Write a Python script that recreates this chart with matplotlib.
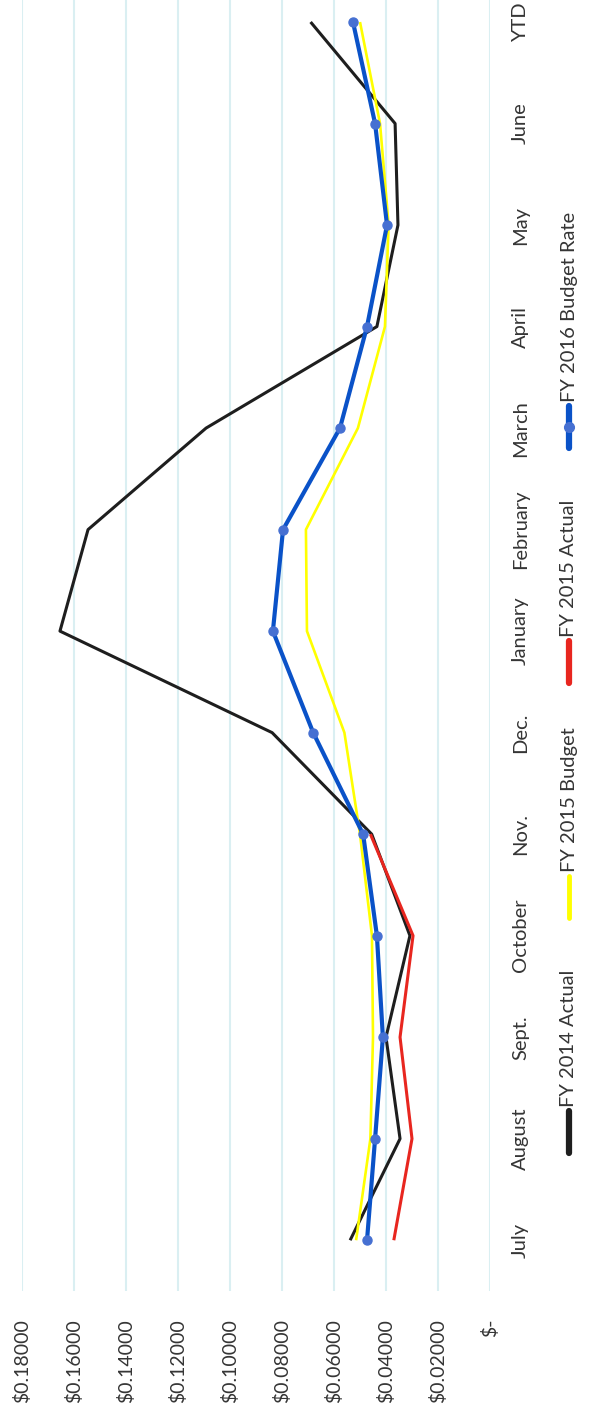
import numpy as np
import matplotlib
matplotlib.use("Agg")
import matplotlib.pyplot as plt
from matplotlib.lines import Line2D

# ---- data ----
categories = ["July", "August", "Sept.", "October", "Nov.", "Dec.", "January",
              "February", "March", "April", "May", "June", "YTD"]
fy2014_actual = [0.0538, 0.0346, 0.0400, 0.0308, 0.0455, 0.0838, 0.1654,
                 0.1546, 0.1092, 0.0435, 0.0354, 0.0365, 0.0690]
fy2015_budget = [0.0515, 0.0460, 0.0450, 0.0454, 0.0500, 0.0560, 0.0704,
                 0.0708, 0.0508, 0.0404, 0.0390, 0.0423, 0.0500]
fy2015_actual = [0.0370, 0.0300, 0.0346, 0.0296, 0.0460, None, None,
                 None, None, None, None, None, None]
fy2016_budget_rate = [0.0473, 0.0442, 0.0412, 0.0435, 0.0488, 0.0680, 0.0835,
                      0.0796, 0.0577, 0.0473, 0.0396, 0.0442, 0.0527]
value_ticks = [0.18, 0.16, 0.14, 0.12, 0.10, 0.08, 0.06, 0.04, 0.02, 0.0]
value_tick_labels = ["$0.18000", "$0.16000", "$0.14000", "$0.12000", "$0.10000",
                     "$0.08000", "$0.06000", "$0.04000", "$0.02000", "$-"]
legend_labels = ["FY 2014 Actual", "FY 2015 Budget", "FY 2015 Actual",
                 "FY 2016 Budget Rate"]

def arr(v):
    return np.array([np.nan if x is None else x for x in v], dtype=float)

FONT = "Lato"
FS = 14.5
TXT = "#353535"
W, H = 598, 1416

fig = plt.figure(figsize=(W / 100, H / 100), dpi=100)
fig.patch.set_facecolor("white")

ax_left, ax_right = 22, 490
ax_top, ax_bottom = 0, 1291
ax = fig.add_axes([ax_left / W, (H - ax_bottom) / H,
                   (ax_right - ax_left) / W, (ax_bottom - ax_top) / H])

idx = np.arange(len(categories))
colors = ["#1e1e1e", "#ffff00", "#e8261f", "#0a52c8"]
series = [fy2014_actual, fy2015_budget, fy2015_actual, fy2016_budget_rate]
widths = [2.2, 1.9, 2.2, 3.0]
for i, (s, c, lw) in enumerate(zip(series, colors, widths)):
    if i == 3:
        ax.plot(arr(s), idx, color=c, lw=lw, marker="o", ms=6.5,
                mfc="#4670d2", mec="#4670d2", zorder=5, solid_capstyle="round")
    else:
        ax.plot(arr(s), idx, color=c, lw=lw, zorder=3 + i, solid_capstyle="butt")

ax.set_xlim(0.18, 0.0)
step_px = (1240 - 22) / 12.0
ax.set_ylim(-0.5, 12 + 22 / step_px)

ax.set_xticks(value_ticks)
ax.set_xticklabels(value_tick_labels, rotation=90, fontsize=14, family=FONT,
                   color=TXT)
ax.tick_params(axis="x", length=0, pad=20)

ax.yaxis.tick_right()
ax.set_yticks(idx)
ax.set_yticklabels(categories, rotation=90, fontsize=FS, family=FONT,
                   color=TXT, va="center")
ax.tick_params(axis="y", length=0, pad=16)

ax.grid(axis="x", color="#daeff2", lw=1.5, zorder=0)
ax.grid(axis="y", visible=False)
for sp in ax.spines.values():
    sp.set_visible(False)
ax.set_facecolor("white")

# ---- legend (rotated, drawn manually) ----
def fx(x):
    return x / W

def fy(y):
    return (H - y) / H

lx = 569
handle_len = 42
entry_starts = [1153, 918, 683, 448]
for lab, c, start, k in zip(legend_labels, colors, entry_starts, range(4)):
    hlw = 4.5 if k != 1 else 3.5
    fig.add_artist(Line2D([fx(lx), fx(lx)], [fy(start), fy(start - handle_len)],
                          transform=fig.transFigure, color=c, lw=hlw,
                          solid_capstyle="round"))
    if k == 3:
        fig.add_artist(Line2D([fx(lx)], [fy(start - handle_len / 2)],
                              transform=fig.transFigure, marker="o", ms=7,
                              mfc="#4670d2", mec="#4670d2", lw=0))
    fig.text(fx(lx), fy(start - handle_len - 4), lab, rotation=90,
             ha="center", va="bottom", fontsize=FS, family=FONT, color=TXT)

fig.savefig("out.png", dpi=100, facecolor="white")
